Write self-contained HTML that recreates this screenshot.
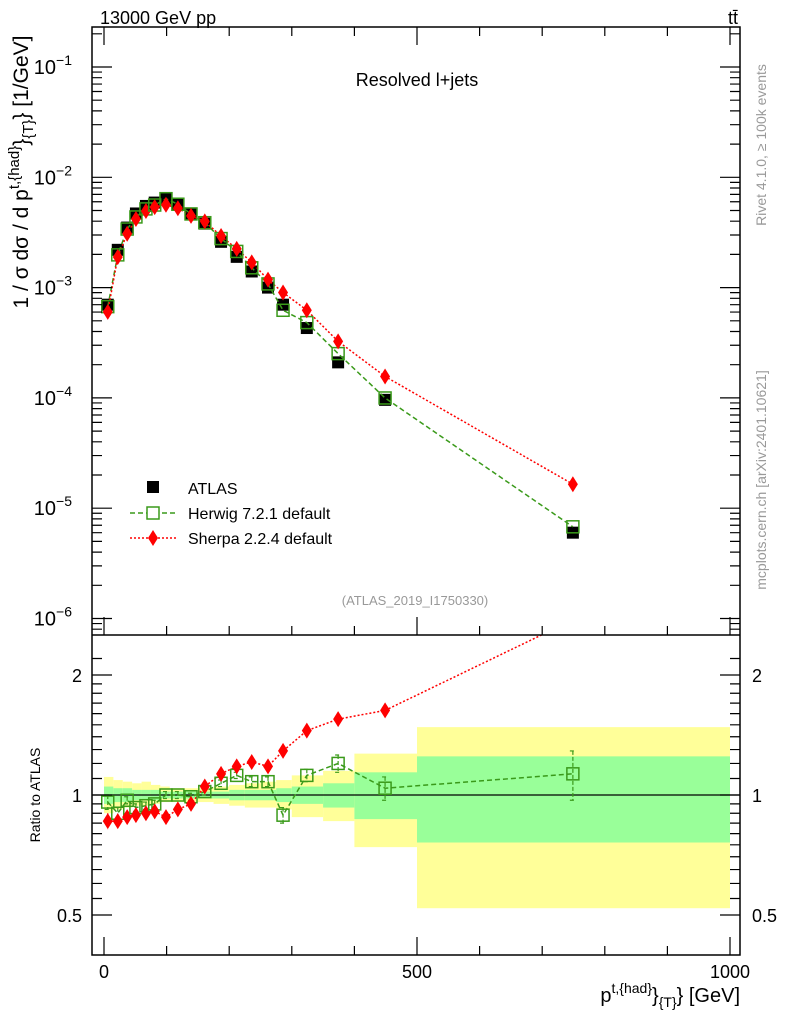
<!DOCTYPE html>
<html><head><meta charset="utf-8"><style>
body{margin:0;background:#fff}
svg text{font-family:"Liberation Sans",sans-serif}
</style></head><body>
<svg id="c" xmlns="http://www.w3.org/2000/svg" width="786" height="1024" viewBox="0 0 786 1024">
<defs>
<clipPath id="cm"><rect x="92" y="27" width="648" height="608"/></clipPath>
<clipPath id="cr"><rect x="92" y="635" width="648" height="320"/></clipPath>
</defs>
<g id="bands" clip-path="url(#cr)"></g>
<g id="marks"></g>
<rect x="92" y="27" width="648" height="928" fill="none" stroke="#000" stroke-width="1.5"/>
<line x1="92" y1="635" x2="740" y2="635" stroke="#000" stroke-width="1.5"/>
<g id="axes"></g>
<text x="100" y="24" font-size="18">13000 GeV pp</text>
<text x="738" y="24" font-size="18" text-anchor="end">tt̄</text>
<text x="417" y="86" font-size="18" text-anchor="middle">Resolved l+jets</text>
<text x="415" y="605" font-size="13" fill="#999" text-anchor="middle">(ATLAS_2019_I1750330)</text>
<text transform="translate(766,145) rotate(-90)" font-size="14" fill="#999" text-anchor="middle">Rivet 4.1.0, ≥ 100k events</text>
<text transform="translate(766,480) rotate(-90)" font-size="14" fill="#999" text-anchor="middle">mcplots.cern.ch [arXiv:2401.10621]</text>
<text transform="translate(28,172) rotate(-90)" font-size="21" text-anchor="middle">1 / σ dσ / d p<tspan font-size="15" dy="-9">t,{had}</tspan><tspan dy="9">}</tspan><tspan font-size="15" dy="5">{T}</tspan><tspan dy="-5">} [1/GeV]</tspan></text>
<text transform="translate(40,795) rotate(-90)" font-size="14" text-anchor="middle">Ratio to ATLAS</text>
<text x="740" y="1002" font-size="20" text-anchor="end">p<tspan font-size="14" dy="-9">t,{had}</tspan><tspan dy="9">}</tspan><tspan font-size="14" dy="5">{T}</tspan><tspan dy="-5">} [GeV]</tspan></text>
<g>
<rect x="147" y="481" width="12" height="12" fill="#000"/>
<text x="188" y="494" font-size="16">ATLAS</text>
<line x1="130" y1="513" x2="176" y2="513" stroke="#3a9a1a" stroke-width="1.5" stroke-dasharray="5,3"/>
<rect x="147" y="507" width="12" height="12" fill="#fff" stroke="#3a9a1a" stroke-width="1.5"/>
<text x="188" y="519" font-size="16">Herwig 7.2.1 default</text>
<line x1="130" y1="538" x2="176" y2="538" stroke="#f00" stroke-width="1.5" stroke-dasharray="2,2"/>
<polygon points="153,530 158,538 153,546 148,538" fill="#f00"/>
<text x="188" y="544" font-size="16">Sherpa 2.2.4 default</text>
</g>
</svg>
<script>
const edges=[0,15,30,45,60,75,90,105,125,150,175,200,225,250,275,300,350,400,500,1000];
const centers=[6,22,37,51,67,81,99,118,139,161,187,212,236,262,286,324,374,449,749];
const atlas=[7.0e-4,2.2e-3,3.5e-3,4.7e-3,5.5e-3,5.9e-3,6.4e-3,5.7e-3,4.7e-3,3.8e-3,2.6e-3,1.9e-3,1.4e-3,1.0e-3,7.0e-4,4.3e-4,2.1e-4,9.6e-5,6.0e-6];
const herwigRatio=[0.96,0.90,0.97,0.93,0.94,0.95,1.0,1.0,0.99,1.02,1.07,1.12,1.08,1.08,0.89,1.12,1.20,1.04,1.13];
const herwigErr=[0.04,0.03,0.02,0.02,0.02,0.02,0.02,0.02,0.02,0.02,0.02,0.02,0.03,0.03,0.04,0.04,0.06,0.07,0.16];
const sherpaRatio=[0.86,0.86,0.88,0.89,0.90,0.91,0.88,0.92,0.95,1.05,1.13,1.18,1.21,1.18,1.29,1.45,1.55,1.63,2.75];
const sherpaErr=[0.04,0.02,0.02,0.02,0.02,0.02,0.02,0.02,0.02,0.02,0.02,0.02,0.03,0.03,0.04,0.04,0.05,0.06,0.1];
const totUp=[1.11,1.09,1.08,1.07,1.08,1.06,1.05,1.04,1.04,1.04,1.05,1.06,1.07,1.08,1.09,1.12,1.15,1.27,1.48];
const totDn=[0.90,0.92,0.93,0.94,0.94,0.95,0.96,0.96,0.96,0.96,0.95,0.94,0.93,0.93,0.92,0.88,0.86,0.74,0.52];
const statUp=[1.05,1.04,1.04,1.03,1.03,1.03,1.02,1.02,1.02,1.02,1.02,1.03,1.03,1.03,1.04,1.05,1.07,1.14,1.25];
const statDn=[0.95,0.96,0.96,0.97,0.97,0.97,0.98,0.98,0.98,0.98,0.98,0.97,0.97,0.97,0.96,0.95,0.93,0.87,0.76];
const xTicks=[0,500,1000];
const yDecades=[-6,-5,-4,-3,-2,-1];
const rTicks=[0.5,1,2];
const rTickLabels=["0.5","1","2"];

const NS="http://www.w3.org/2000/svg";
const X=v=>104+v*0.626;
const Y=v=>67-(Math.log10(v)+1)*110.3;
const R=v=>795-Math.log2(v)*120;
function mk(t,a,p){const e=document.createElementNS(NS,t);for(const k in a)e.setAttribute(k,a[k]);(p||document.getElementById('marks')).appendChild(e);return e;}
const bands=document.getElementById('bands'),axes=document.getElementById('axes');
for(let i=0;i<centers.length;i++){
 const x0=X(edges[i]),x1=X(edges[i+1]);
 const y=mk('rect',{x:x0,y:R(totUp[i]),width:x1-x0,height:R(totDn[i])-R(totUp[i]),fill:'#ffff99'},bands);
 
 
 const g=mk('rect',{x:x0,y:R(statUp[i]),width:x1-x0,height:R(statDn[i])-R(statUp[i]),fill:'#99ff99'},bands);
 
 
}
const one=mk('line',{x1:92,x2:740,y1:R(1),y2:R(1),stroke:'#000','stroke-width':1.2},bands);


const gm=mk('g',{'clip-path':'url(#cm)'});


const gr=mk('g',{'clip-path':'url(#cr)'});


const hw=centers.map((c,i)=>atlas[i]*herwigRatio[i]);
const sh=centers.map((c,i)=>atlas[i]*sherpaRatio[i]);
function path(xs,ys,fx,fy,style,par,name){const p=mk('path',Object.assign({d:xs.map((x,i)=>(i?'L':'M')+fx(x)+','+fy(ys[i])).join(''),fill:'none'},style),par);}
const hs={stroke:'#3a9a1a','stroke-width':1.5,'stroke-dasharray':'5,3'};
const ss={stroke:'#f00','stroke-width':1.5,'stroke-dasharray':'2,2'};
for(let i=0;i<centers.length;i++){
 const a=mk('rect',{x:X(centers[i])-6,y:Y(atlas[i])-6,width:12,height:12,fill:'#000'},gm);
 
 
}
path(centers,hw,X,Y,hs,gm,'herwig-line');
path(centers,sh,X,Y,ss,gm,'sherpa-line');
function sq(x,y,par,name){const s=mk('rect',{x:x-6,y:y-6,width:12,height:12,fill:'none',stroke:'#3a9a1a','stroke-width':1.5},par);}
function dia(x,y,par,name){const s=mk('polygon',{points:`${x},${y-8} ${x+5},${y} ${x},${y+8} ${x-5},${y}`,fill:'#f00'},par);}
for(let i=0;i<centers.length;i++){sq(X(centers[i]),Y(hw[i]),gm,'herwig-point');dia(X(centers[i]),Y(sh[i]),gm,'sherpa-point');}
path(centers,herwigRatio,X,R,hs,gr,'herwig-ratio-line');
path(centers,sherpaRatio,X,R,ss,gr,'sherpa-ratio-line');
for(let i=0;i<centers.length;i++){
 const x=X(centers[i]);
 const e1=mk('path',{d:`M${x},${R(herwigRatio[i]+herwigErr[i])}L${x},${R(herwigRatio[i]-herwigErr[i])}M${x-3},${R(herwigRatio[i]+herwigErr[i])}h6M${x-3},${R(herwigRatio[i]-herwigErr[i])}h6`,stroke:'#3a9a1a','stroke-width':1.2,'stroke-dasharray':'4,2',fill:'none'},gr);
 
 
 const e2=mk('path',{d:`M${x},${R(sherpaRatio[i]+sherpaErr[i])}L${x},${R(sherpaRatio[i]-sherpaErr[i])}`,stroke:'#f00','stroke-width':1.2,'stroke-dasharray':'2,2',fill:'none'},gr);
 
 
 sq(x,R(herwigRatio[i]),gr,'herwig-ratio-point');
 dia(x,R(sherpaRatio[i]),gr,'sherpa-ratio-point');
}
let d='';
for(const v of xTicks){d+=`M${X(v)},955v-18M${X(v)},635v-18M${X(v)},27v18`;}
for(let v=100;v<1000;v+=100){if(v%500)d+=`M${X(v)},955v-9M${X(v)},635v-9M${X(v)},27v9`;}
for(const e of yDecades){const y=Y(Math.pow(10,e));d+=`M92,${y}h20M740,${y}h-20`;
 for(let m=2;m<10;m++){const ym=Y(m*Math.pow(10,e));if(ym>27&&ym<635)d+=`M92,${ym}h10M740,${ym}h-10`;}}
for(let m=2;m<10;m++){const ym=Y(m*Math.pow(10,-7));if(ym>27&&ym<635)d+=`M92,${ym}h10M740,${ym}h-10`;}
for(const v of rTicks){d+=`M92,${R(v)}h20M740,${R(v)}h-20`;}
for(const v of [0.6,0.7,0.8,0.9,1.5,1.2,1.4,1.6,1.8,2.2,0.55,0.65,0.75,0.85,0.95,1.1,1.3,1.7,1.9]){const y=R(v);if(y>635&&y<955)d+=`M92,${y}h10M740,${y}h-10`;}
const tk=mk('path',{d:d,stroke:'#000','stroke-width':1.2,fill:'none'},axes);


for(const v of xTicks){const t=mk('text',{x:X(v),y:978,'font-size':18,'text-anchor':'middle'},axes);t.textContent=String(v);
 
 }
for(const e of yDecades){const y=Y(Math.pow(10,e));const t=mk('text',{x:72,y:y+7,'font-size':20,'text-anchor':'end'},axes);
 
 
 t.innerHTML=`10<tspan font-size="14" dy="-9">−${-e}</tspan>`;}
rTicks.forEach((v,i)=>{for(const [x,a] of [[82,'end'],[752,'start']]){const t=mk('text',{x:x,y:R(v)+7,'font-size':18,'text-anchor':a},axes);t.textContent=rTickLabels[i];
 
 }});
</script>
</body></html>
